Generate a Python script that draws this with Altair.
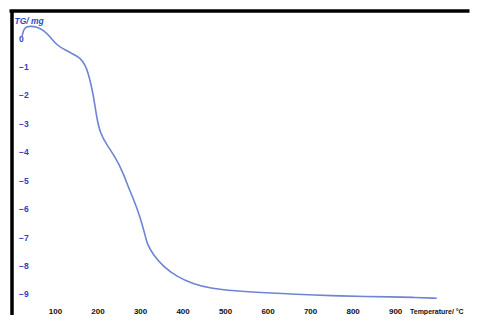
import altair as alt
import pandas as pd

temperature = [22, 25, 30, 40, 57, 75, 88, 104, 124, 147, 159, 171, 178, 186, 192, 198, 206, 222,
               241, 261, 272, 284, 300, 312, 316, 331, 355, 386, 425, 465, 520, 600, 653, 710,
               771, 830, 888, 940, 998]
tg_mg = [0.02, 0.25, 0.38, 0.42, 0.40, 0.25, 0.05, -0.25, -0.42, -0.60, -0.70, -0.95, -1.23,
         -1.72, -2.18, -2.80, -3.34, -3.76, -4.17, -4.76, -5.23, -5.64, -6.28, -6.93, -7.22,
         -7.63, -8.04, -8.39, -8.65, -8.80, -8.89, -8.96, -9.00, -9.04, -9.07, -9.09, -9.10,
         -9.12, -9.15]
x_ticks = [100, 200, 300, 400, 500, 600, 700, 800, 900]
y_ticks = [0, -1, -2, -3, -4, -5, -6, -7, -8, -9]

df = pd.DataFrame({"T": temperature, "TG": tg_mg})

W, H = 458, 304

line = alt.Chart(df).mark_line(color="#6f84d4", strokeWidth=1.6, interpolate="basis").encode(
    x=alt.X("T:Q",
            scale=alt.Scale(domain=[-2.4, 1075], nice=False, zero=False),
            axis=alt.Axis(values=x_ticks, domain=False, ticks=False, grid=False,
                          labelPadding=-8, labelColor="#111111", labelFont="Liberation Sans",
                          labelFontWeight="bold", labelFontSize=8,
                          title="Temperature/ °C", titleX=398, titleY=-4, titleAlign="left",
                          titleBaseline="middle", titleFont="Liberation Sans",
                          titleFontWeight="bold", titleFontSize=7, titleColor="#111111",
                          titleLimit=200)),
    y=alt.Y("TG:Q",
            scale=alt.Scale(domain=[-9.74, 0.95], nice=False, zero=False),
            axis=alt.Axis(values=y_ticks, domain=True, domainColor="#000000", domainWidth=3.5,
                          ticks=False, grid=False, labelAlign="left", labelPadding=-7,
                          labelColor="#3440c4", labelFont="Liberation Sans",
                          labelFontWeight="bold", labelFontSize=8.5,
                          title="TG/ mg", titleAngle=0, titleX=2.5, titleY=9, titleAlign="left",
                          titleBaseline="middle", titleFont="Liberation Sans",
                          titleFontWeight="bold", titleFontStyle="italic", titleFontSize=8.5,
                          titleColor="#2f45c8")),
)

top_border = alt.Chart(pd.DataFrame({"a": [0]})).mark_rule(color="#000000", strokeWidth=3.5).encode(
    x=alt.value(-2), x2=alt.value(W), y=alt.value(0)
)

chart = alt.layer(line, top_border).properties(
    width=W, height=H,
    padding={"left": 3.5, "top": 3, "right": 0, "bottom": 0},
    autosize=alt.AutoSizeParams(type="none"),
    background="#ffffff",
).configure_view(stroke=None)

chart.save("out.html", embed_options={"renderer": "svg", "actions": False})
